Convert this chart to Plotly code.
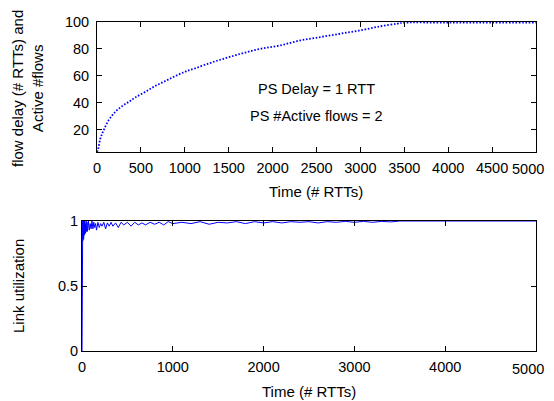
import plotly.graph_objects as go

# the page body has an 8px margin; the visible area ends 8px before the window's right edge
OFF = 8
W, H = 554 - OFF, 401 - OFF
RIGHT_VISIBLE = 546

# ---- data ----
delay_time = [0, 11, 38, 76, 133, 209, 285, 361, 437, 551, 664, 778, 892, 1006, 1120,
              1310, 1500, 1690, 1880, 2088, 2316, 2544, 2772, 3000, 3227, 3417, 3500,
              4000, 4500, 5000]
delay_vals = [3.3, 5, 13.3, 19.5, 27, 33.2, 37.4, 40.6, 43.9, 48.1, 52.4, 56.1, 59.8,
              63.1, 65.6, 70, 73.8, 77.3, 80.3, 82.6, 86.3, 88.8, 91.3, 93.8, 96.8,
              98.8, 99.5, 99.5, 99.5, 99.5]

util_time = [0, 2, 4, 6, 8, 10, 12, 14, 16, 18, 20, 24, 28, 32, 36, 40, 45, 50, 55, 60,
             70, 80, 90, 100, 110, 120, 130, 140, 150, 160, 175, 190, 205, 220, 240, 260,
             280, 300, 320, 340, 370, 400, 430, 460, 500, 540, 580, 620, 660, 700, 750,
             800, 850, 900, 950, 1000, 1100, 1200, 1300, 1400, 1500, 1600, 1700, 1800,
             1900, 2000, 2100, 2200, 2300, 2400, 2500, 2600, 2700, 2800, 2900, 3000,
             3100, 3200, 3300, 3400, 3500, 5000]
util_vals = [0, 0.78, 0.99, 0.82, 1.0, 0.85, 0.98, 0.87, 1.0, 0.86, 0.99, 0.89, 1.0, 0.9,
             0.98, 0.91, 1.0, 0.92, 0.99, 0.92, 1.0, 0.93, 0.98, 0.94, 1.0, 0.94, 0.99,
             0.95, 0.98, 0.93, 0.99, 0.95, 0.98, 0.96, 0.99, 0.94, 0.985, 0.96, 0.99,
             0.96, 0.985, 0.95, 0.99, 0.97, 0.99, 0.96, 0.99, 0.97, 0.985, 0.97, 0.99,
             0.975, 0.99, 0.97, 0.995, 0.98, 0.99, 0.98, 0.995, 0.975, 0.99, 0.985,
             0.995, 0.98, 0.995, 0.985, 0.995, 0.985, 0.995, 0.99, 0.995, 0.985, 0.995,
             0.99, 0.997, 0.99, 0.997, 0.99, 0.997, 0.993, 1.0, 1.0]

top_xticks = [0, 500, 1000, 1500, 2000, 2500, 3000, 3500, 4000, 4500, 5000]
top_xticklabels = ["0", "500", "1000", "1500", "2000", "2500", "3000", "3500", "4000", "4500", ""]
top_yticks = [20, 40, 60, 80, 100]
bot_xticks = [0, 1000, 2000, 3000, 4000, 5000]
bot_xticklabels = ["0", "1000", "2000", "3000", "4000", ""]
bot_yticks = [0, 0.5, 1]
bot_yticklabels = ["0", "0.5", "1"]
last_xlabel = "5000"

FONT = "Liberation Sans, Arial, Helvetica, sans-serif"
BLUE = "#0000ff"

def px_x(p):
    return (p - OFF) / W

def px_y(p):
    return 1 - (p - OFF) / H

fig = go.Figure()
fig.add_trace(go.Scatter(x=delay_time, y=delay_vals, mode="lines", line_shape="spline",
                         line=dict(color=BLUE, width=1.8, dash="1.6px,1.7px"),
                         xaxis="x", yaxis="y", showlegend=False))
fig.add_trace(go.Scatter(x=util_time, y=util_vals, mode="lines",
                         line=dict(color=BLUE, width=1),
                         xaxis="x2", yaxis="y2", showlegend=False))

axis_common = dict(showline=True, linecolor="black", linewidth=1, mirror="ticks",
                   ticks="inside", ticklen=5, tickcolor="black", showgrid=False,
                   zeroline=False, automargin=False,
                   tickfont=dict(family=FONT, size=14.5, color="black"))

fig.update_layout(
    width=W, height=H,
    margin=dict(l=0, r=0, t=0, b=0, pad=0),
    paper_bgcolor="white", plot_bgcolor="white",
    font=dict(family=FONT, size=14.5, color="black"),
    xaxis=dict(domain=[px_x(97), px_x(536)], range=[0, 5000], tickvals=top_xticks,
               ticktext=top_xticklabels, ticklabelstandoff=3, anchor="y", **axis_common),
    yaxis=dict(domain=[px_y(152), px_y(22)], range=[3.3, 100], tickvals=top_yticks,
               ticklabelstandoff=4, anchor="x", **axis_common),
    xaxis2=dict(domain=[px_x(82), px_x(536)], range=[0, 5000], tickvals=bot_xticks,
                ticktext=bot_xticklabels, ticklabelstandoff=3, anchor="y2", **axis_common),
    yaxis2=dict(domain=[px_y(351), px_y(221)], range=[0, 1], tickvals=bot_yticks,
                ticktext=bot_yticklabels, anchor="x2", **axis_common),
)

ann = []
def text(x, y, s, angle=0, size=15, xanchor="center"):
    ann.append(dict(x=px_x(x), y=px_y(y), xref="paper", yref="paper", text=s,
                    showarrow=False, textangle=angle, xanchor=xanchor, yanchor="middle",
                    font=dict(family=FONT, size=size, color="black")))

text(316, 191, "Time (# RTTs)")
text(309, 391, "Time (# RTTs)")
text(27, 89, "flow delay (# RTTs) and<br>Active #flows", angle=-90)
text(18, 286, "Link utilization", angle=-90)
text(316, 89, "PS Delay = 1 RTT", size=14.5)
text(316, 116, "PS #Active flows = 2", size=14.5)
# last x tick labels, kept inside the visible page area
text(RIGHT_VISIBLE, 169, last_xlabel, size=14.5, xanchor="right")
text(RIGHT_VISIBLE, 368.5, last_xlabel, size=14.5, xanchor="right")
fig.update_layout(annotations=ann)

fig.write_html("out.html")
